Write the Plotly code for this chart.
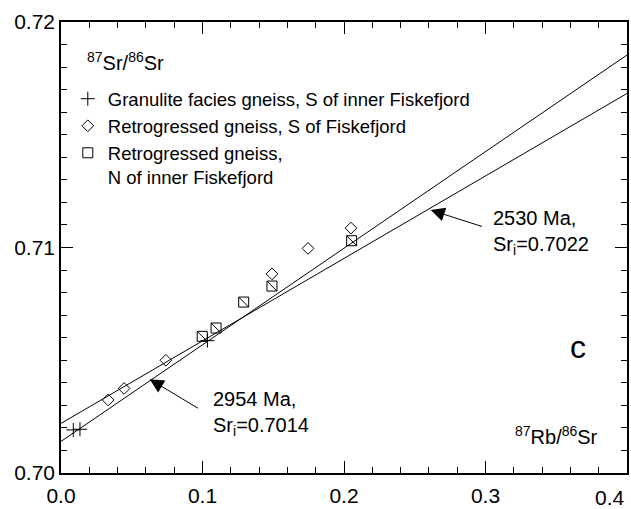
import plotly.graph_objects as go
import numpy as np

# ---- data ----
gran_x = [0.0087, 0.0134, 0.1035]
gran_y = [0.70191, 0.70194, 0.70587]

retS_x = [0.0333, 0.0446, 0.0741, 0.1491, 0.1746, 0.2049]
retS_y = [0.70324, 0.70375, 0.70500, 0.70883, 0.70996, 0.71086]

retN_x = [0.0998, 0.1096, 0.1291, 0.1491, 0.2054]
retN_y = [0.70606, 0.70643, 0.70758, 0.70829, 0.71030]

iso_ages_ma = [2954, 2530]
iso_sri = [0.7014, 0.7022]
LAMBDA_RB = 1.42e-11  # per year
x_range = [0.0, 0.4]
y_range = [0.70, 0.72]
x_tick_vals = [0.0, 0.1, 0.2, 0.3]
x_tick_text = ["0.0", "0.1", "0.2", "0.3"]
x_last_tick = "0.4"

FONT = "Liberation Sans, Arial, Helvetica, sans-serif"

fig = go.Figure()

# isochron lines
for age, sri in zip(iso_ages_ma, iso_sri):
    slope = np.exp(LAMBDA_RB * age * 1e6) - 1
    xs = np.array(x_range)
    fig.add_trace(go.Scatter(x=xs, y=sri + slope * xs, mode="lines",
                             line=dict(color="black", width=1), showlegend=False,
                             hoverinfo="skip"))

mk_line = dict(color="black", width=1)
fig.add_trace(go.Scatter(x=gran_x, y=gran_y, mode="markers",
                         name="Granulite facies gneiss, S of inner Fiskefjord",
                         marker=dict(symbol="cross-thin-open", size=10, color="black", line=mk_line)))
fig.add_trace(go.Scatter(x=retS_x, y=retS_y, mode="markers",
                         name="Retrogressed gneiss, S of Fiskefjord",
                         marker=dict(symbol="diamond-open", size=9, color="black", line=mk_line)))
fig.add_trace(go.Scatter(x=retN_x, y=retN_y, mode="markers",
                         name="Retrogressed gneiss,<br>N of inner Fiskefjord",
                         marker=dict(symbol="square-open", size=10, color="black", line=mk_line)))
fig.add_trace(go.Scatter(x=retN_x, y=retN_y, mode="markers", showlegend=False,
                         marker=dict(symbol="line-nw-open", size=10, color="black", line=mk_line)))

# arrows (tip, tail) and labels
arrows = [
    dict(tip=(0.0627, 0.70416), tail=(0.0979, 0.70283)),
    dict(tip=(0.2613, 0.71166), tail=(0.2986, 0.71091)),
]
for a in arrows:
    fig.add_annotation(x=a["tip"][0], y=a["tip"][1], ax=a["tail"][0], ay=a["tail"][1],
                       xref="x", yref="y", axref="x", ayref="y", text="",
                       showarrow=True, arrowhead=2, arrowsize=2.8, arrowwidth=1,
                       arrowcolor="black")

labels = [
    dict(x=0.1058, y=0.70266, text="2954 Ma,<br>Sr<sub>i</sub>=0.7014"),
    dict(x=0.3036, y=0.71066, text="2530 Ma,<br>Sr<sub>i</sub>=0.7022"),
]
for l in labels:
    fig.add_annotation(x=l["x"], y=l["y"], xref="x", yref="y", text=l["text"],
                       showarrow=False, xanchor="left", yanchor="middle", align="left",
                       font=dict(family=FONT, size=20, color="black"))

fig.add_annotation(x=0.0169, y=0.71825, xref="x", yref="y",
                   text="<sup>87</sup>Sr/<sup>86</sup>Sr", showarrow=False,
                   xanchor="left", yanchor="middle",
                   font=dict(family=FONT, size=20, color="black"))
fig.add_annotation(x=0.381, y=0.70168, xref="x", yref="y",
                   text="<sup>87</sup>Rb/<sup>86</sup>Sr", showarrow=False,
                   xanchor="right", yanchor="middle",
                   font=dict(family=FONT, size=20, color="black"))
fig.add_annotation(x=0.3655, y=0.70557, xref="x", yref="y", text="c", showarrow=False,
                   xanchor="center", yanchor="middle",
                   font=dict(family=FONT, size=32, color="black"))
# last x tick label, kept inside the page edge
fig.add_annotation(x=x_range[1], y=0, xref="x", yref="paper", text=x_last_tick,
                   showarrow=False, xanchor="right", yanchor="top", yshift=-11,
                   font=dict(family=FONT, size=21, color="black"))

axis_common = dict(showgrid=False, zeroline=False, showline=True, linecolor="black",
                   linewidth=1.5, mirror="allticks", ticks="inside", tickcolor="black",
                   tickwidth=1, ticklen=12,
                   tickfont=dict(family=FONT, size=21, color="black"))

fig.update_xaxes(range=x_range, tickvals=x_tick_vals, ticktext=x_tick_text,
                 ticklabelstandoff=3,
                 minor=dict(dtick=0.02, ticks="inside", ticklen=6, tickcolor="black", tickwidth=1),
                 **axis_common)
fig.update_yaxes(range=y_range, dtick=0.01, tick0=0.70, tickformat=".2f",
                 minor=dict(dtick=0.001, ticks="inside", ticklen=6, tickcolor="black", tickwidth=1),
                 **axis_common)

fig.update_layout(
    width=631, height=509,
    margin=dict(l=61, r=2, t=22, b=34),
    plot_bgcolor="white", paper_bgcolor="white",
    font=dict(family=FONT, size=19, color="black"),
    legend=dict(x=0.012, y=0.871, xanchor="left", yanchor="top",
                bgcolor="rgba(0,0,0,0)", borderwidth=0, itemwidth=30,
                valign="top", tracegroupgap=0,
                font=dict(family=FONT, size=18.5, color="black")),
    showlegend=True,
)

fig.write_html("out.html", config={"displayModeBar": False},
               post_script="document.body.style.margin='0';document.body.style.padding='0';")
